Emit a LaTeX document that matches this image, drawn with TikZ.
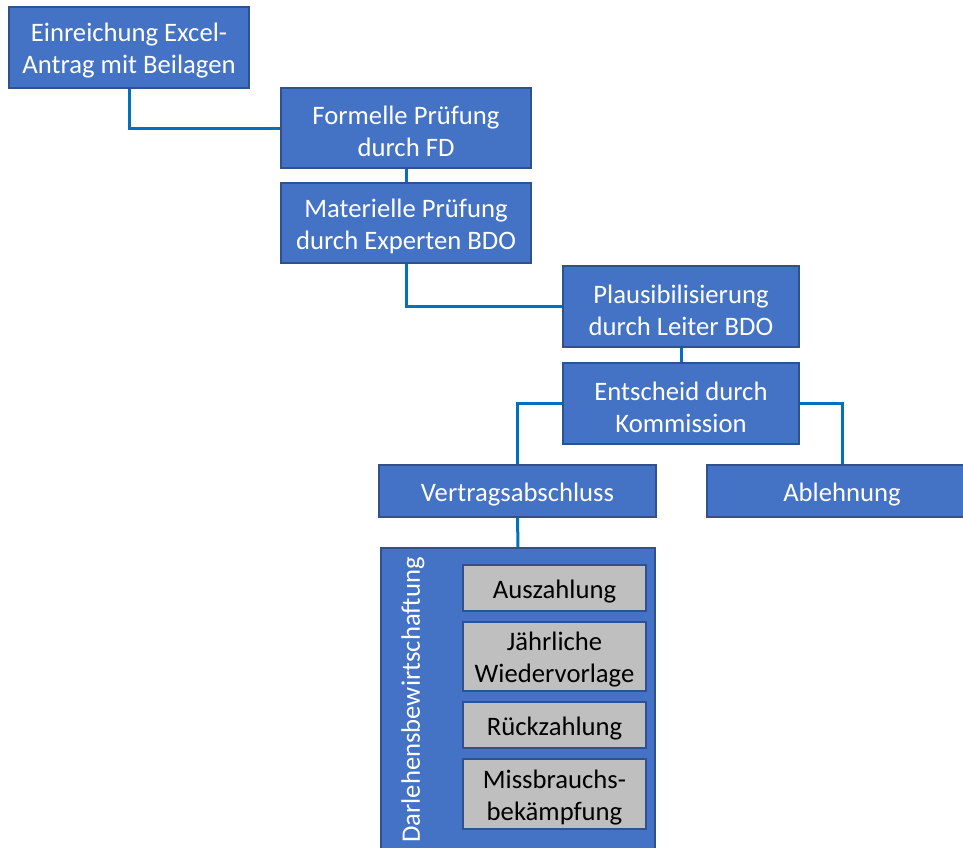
\documentclass[tikz,border=0pt]{standalone}
\usepackage{fontspec}
\setmainfont{Carlito}
\definecolor{boxblue}{HTML}{4472C4}
\definecolor{boxedge}{HTML}{2F528F}
\definecolor{linkblue}{HTML}{0070C0}
\definecolor{boxgray}{HTML}{BFBFBF}
\begin{document}
\begin{tikzpicture}[x=0.75pt,y=-0.75pt,
  bluebox/.style={draw=boxedge, line width=0.9pt, fill=boxblue, inner sep=0pt},
  graybox/.style={draw=boxedge, line width=0.9pt, fill=boxgray, inner sep=0pt, minimum width=137.25pt},
  wtxt/.style={text=white, align=center, inner sep=0pt, yshift=-2.5pt, font=\fontsize{20}{24}\selectfont},
  ktxt/.style={text=black, align=center, inner sep=0pt, yshift=-2.5pt, font=\fontsize{20}{24}\selectfont},
  link/.style={draw=linkblue, line width=2.25pt}]
\useasboundingbox (0,0) rectangle (963,847);
\begin{scope}
\clip (0,0) rectangle (963,847);
\node[bluebox, minimum width=180pt, minimum height=60.75pt,
  label={[wtxt]center:Einreichung Excel-\\Antrag mit Beilagen}] (b1) at (129,47.5) {};
\node[bluebox, minimum width=187.5pt, minimum height=60pt,
  label={[wtxt]center:Formelle Prüfung\\durch FD}] (b2) at (406,128) {};
\node[bluebox, minimum width=187.5pt, minimum height=60pt,
  label={[wtxt]center:Materielle Prüfung\\durch Experten BDO}] (b3) at (406,223) {};
\node[bluebox, minimum width=177pt, minimum height=60.75pt,
  label={[wtxt]center:Plausibilisierung\\durch Leiter BDO}] (b4) at (681,306.5) {};
\node[bluebox, minimum width=177pt, minimum height=60.75pt,
  label={[wtxt]center:Entscheid durch\\Kommission}] (b5) at (681,403.5) {};
\node[bluebox, minimum width=207.75pt, minimum height=39pt,
  label={[wtxt]center:Vertragsabschluss}] (v) at (517.5,491) {};
\node[bluebox, minimum width=202.5pt, minimum height=39pt,
  label={[wtxt]center:Ablehnung}] (ab) at (842,491) {};
\node[bluebox, minimum width=205.5pt, minimum height=232.5pt] (dar) at (518,703) {};
\node[text=white, rotate=90, inner sep=0pt, font=\fontsize{20}{24}\selectfont] (dt) at (413,700) {Darlehensbewirtschaftung};
\node[graybox, minimum height=34.5pt, label={[ktxt]center:Auszahlung}] (g1) at (554.5,588) {};
\node[graybox, minimum height=51.75pt, label={[ktxt]center:Jährliche\\Wiedervorlage}] (g2) at (554.5,656.5) {};
\node[graybox, minimum height=34.5pt, label={[ktxt]center:Rückzahlung}] (g3) at (554.5,725) {};
\node[graybox, minimum height=52.5pt, label={[ktxt]center:Missbrauchs-\\bekämpfung}] (g4) at (554.5,794) {};
\draw[link] (b1.south) |- (b2.west);
\draw[link] (b2.south) -- (b3.north);
\draw[link] (b3.south) |- (b4.west);
\draw[link] (b4.south) -- (b5.north);
\draw[link] (b5.west) -| (v.north);
\draw[link] (b5.east) -| (ab.north);
\draw[link] (v.south) -- (dar.north);
\end{scope}
\end{tikzpicture}
\end{document}
